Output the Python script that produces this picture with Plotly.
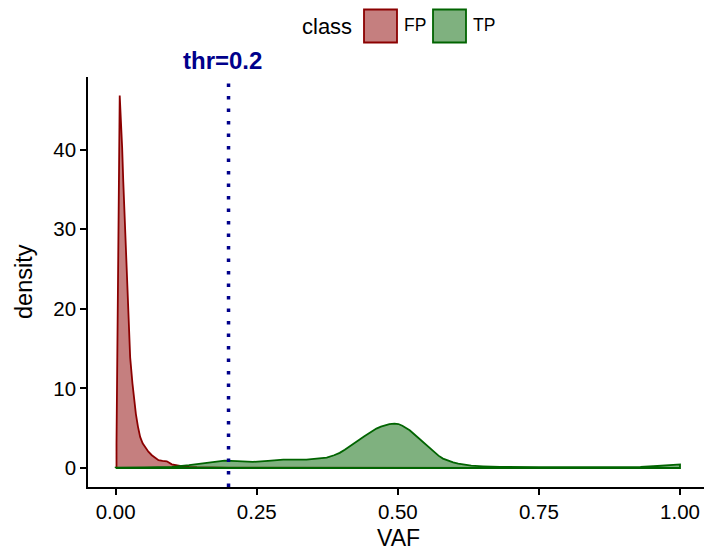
import plotly.graph_objects as go

# Density estimates of VAF per class
fp_vaf = [0.0015, 0.0072, 0.0095, 0.0115, 0.0135, 0.0156, 0.0182, 0.0209, 0.0233, 0.0257,
          0.0298, 0.0328, 0.0358, 0.0395, 0.0434, 0.0478, 0.0523, 0.058, 0.0641, 0.07,
          0.0759, 0.083, 0.0907, 0.0995, 0.114, 0.13, 0.144, 0.2, 0.3, 0.5, 0.7, 0.9]
fp_density = [3.0, 46.8, 44.0, 40.3, 36.0, 32.0, 26.5, 21.5, 17.3, 13.9,
              10.6, 8.5, 6.8, 5.2, 3.9, 3.1, 2.6, 2.05, 1.6, 1.25,
              0.97, 0.9, 0.84, 0.46, 0.25, 0.15, 0.1, 0.05, 0.03, 0.02, 0.01, 0.0]

tp_vaf = [0.0, 0.05, 0.10, 0.13, 0.149, 0.17, 0.193, 0.215, 0.243, 0.27, 0.297, 0.338,
          0.36, 0.374, 0.387, 0.397, 0.406, 0.415, 0.425, 0.433, 0.44, 0.447, 0.455,
          0.462, 0.47, 0.478, 0.485, 0.494, 0.501, 0.508, 0.515, 0.521, 0.528, 0.536,
          0.543, 0.551, 0.558, 0.565, 0.572, 0.58, 0.59, 0.598, 0.607, 0.616, 0.63,
          0.651, 0.681, 0.75, 0.85, 0.93, 0.96, 0.985, 1.0]
tp_density = [0.05, 0.07, 0.15, 0.35, 0.55, 0.78, 0.93, 0.85, 0.76, 0.9, 1.05, 1.05,
              1.15, 1.3, 1.6, 1.9, 2.3, 2.7, 3.2, 3.6, 3.95, 4.3, 4.65,
              4.95, 5.2, 5.4, 5.52, 5.58, 5.52, 5.3, 5.05, 4.74, 4.3, 3.8,
              3.3, 2.85, 2.4, 1.95, 1.55, 1.18, 0.9, 0.7, 0.55, 0.42, 0.3,
              0.21, 0.13, 0.1, 0.1, 0.12, 0.25, 0.4, 0.45]

classes = ["FP", "TP"]
line_colors = {"FP": "#8B0000", "TP": "#006400"}
fill_colors = {"FP": "rgba(139,0,0,0.5)", "TP": "rgba(0,100,0,0.5)"}

threshold = 0.2
x_ticks = [0.0, 0.25, 0.5, 0.75, 1.0]
x_tick_text = ["0.00", "0.25", "0.50", "0.75", "1.00"]
y_ticks = [0, 10, 20, 30, 40]

W, H = 704, 551
ML, MR, MT, MB = 88, 0, 77, 64
FONT = "Liberation Sans, Arial, Helvetica, sans-serif"


def px_x(px):
    return (px - ML) / (W - ML - MR)


def px_y(py):
    return (H - MB - py) / (H - MT - MB)


def polygon(xs, ys):
    # closed outline: baseline start, curve, baseline end, back to start
    px = [xs[0]] + list(xs) + [xs[-1], xs[0]]
    py = [0.0] + list(ys) + [0.0, 0.0]
    return px, py


fig = go.Figure()
for cls, xs, ys in [("FP", fp_vaf, fp_density), ("TP", tp_vaf, tp_density)]:
    px, py = polygon(xs, ys)
    fig.add_trace(go.Scatter(
        x=px, y=py, mode="lines", fill="toself",
        fillcolor=fill_colors[cls],
        line=dict(color=line_colors[cls], width=1.8),
        name=cls, showlegend=False, hoverinfo="skip",
    ))

# threshold line
fig.add_shape(type="line", xref="x", yref="paper", x0=threshold, x1=threshold,
              y0=0, y1=1, line=dict(color="#00008B", width=3.5, dash="3.5px,9px"))
fig.add_annotation(x=threshold, y=px_y(61), xref="x", yref="paper",
                   text="<b>thr=%s</b>" % threshold, showarrow=False, xshift=-6,
                   font=dict(family=FONT, size=24, color="#00008B"),
                   xanchor="center", yanchor="middle")

# legend drawn in paper space
fig.add_annotation(x=px_x(300), y=px_y(27), xref="paper", yref="paper", text="class",
                   showarrow=False, xanchor="left", yanchor="middle",
                   font=dict(family=FONT, size=22, color="black"))
boxes = {"FP": (364, 397), "TP": (433, 466)}
for cls in classes:
    x0, x1 = boxes[cls]
    fig.add_shape(type="rect", xref="paper", yref="paper",
                  x0=px_x(x0), x1=px_x(x1), y0=px_y(42.5), y1=px_y(9.5),
                  fillcolor=fill_colors[cls],
                  line=dict(color=line_colors[cls], width=1.8))
    fig.add_annotation(x=px_x(x1 + 5), y=px_y(25), xref="paper", yref="paper",
                       text=cls, showarrow=False, xanchor="left", yanchor="middle",
                       font=dict(family=FONT, size=17.5, color="black"))

# axis titles
fig.add_annotation(x=px_x(398), y=px_y(538), xref="paper", yref="paper", text="VAF",
                   showarrow=False, xanchor="center", yanchor="middle",
                   font=dict(family=FONT, size=23, color="black"))
fig.add_annotation(x=px_x(24), y=px_y(282), xref="paper", yref="paper", text="density",
                   showarrow=False, xanchor="center", yanchor="middle", textangle=-90,
                   font=dict(family=FONT, size=23.5, color="black"))

axis_common = dict(
    showgrid=False, zeroline=False, showline=True, linecolor="black", linewidth=1.6,
    ticks="outside", ticklen=6, tickwidth=1.6, tickcolor="black",
    tickfont=dict(family=FONT, size=20.5, color="black"),
)
fig.update_xaxes(range=[-0.049, 1.0425], tickvals=x_ticks, ticktext=x_tick_text,
                 **axis_common)
fig.update_yaxes(range=[-2.39, 49.12], tickvals=y_ticks, **axis_common)

fig.update_layout(
    width=W, height=H,
    margin=dict(l=ML, r=MR, t=MT, b=MB, pad=0),
    plot_bgcolor="white", paper_bgcolor="white",
    showlegend=False,
    font=dict(family=FONT, color="black"),
)

fig.write_html("out.html")
